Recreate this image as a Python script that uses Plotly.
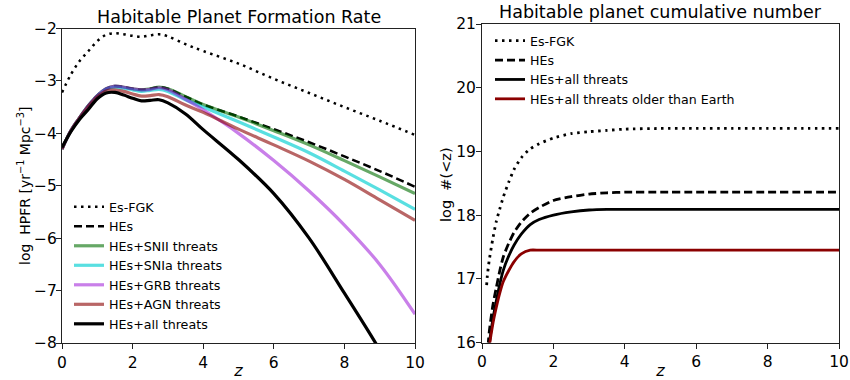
import plotly.graph_objects as go

# ---------------- Left panel data: Habitable Planet Formation Rate ----------------
z_hpfr = [0, 0.25, 0.5, 0.75, 1.0, 1.25, 1.5, 1.75, 2.0, 2.25, 2.5, 2.75, 3.0, 3.5, 4, 5, 6, 7, 8, 9, 10]
hpfr_es_fgk = [-3.22, -2.88, -2.62, -2.43, -2.24, -2.12, -2.09, -2.11, -2.14, -2.16, -2.13, -2.11, -2.15, -2.3, -2.43, -2.67, -2.96, -3.23, -3.5, -3.76, -4.03]
hpfr_hes = [-4.3, -3.95, -3.7, -3.47, -3.28, -3.15, -3.1, -3.12, -3.15, -3.17, -3.15, -3.12, -3.15, -3.3, -3.45, -3.68, -3.92, -4.17, -4.44, -4.72, -5.02]
hpfr_snii = [-4.3, -3.95, -3.7, -3.47, -3.28, -3.15, -3.1, -3.12, -3.15, -3.17, -3.15, -3.12, -3.15, -3.3, -3.45, -3.69, -3.95, -4.22, -4.52, -4.83, -5.15]
hpfr_snia = [-4.3, -3.95, -3.7, -3.47, -3.29, -3.16, -3.12, -3.14, -3.17, -3.2, -3.18, -3.16, -3.2, -3.36, -3.5, -3.78, -4.07, -4.37, -4.72, -5.08, -5.45]
hpfr_grb = [-4.3, -3.95, -3.7, -3.47, -3.28, -3.15, -3.1, -3.12, -3.15, -3.17, -3.16, -3.13, -3.17, -3.35, -3.55, -4.0, -4.52, -5.1, -5.75, -6.5, -7.45]
hpfr_agn = [-4.3, -3.95, -3.7, -3.48, -3.3, -3.19, -3.17, -3.2, -3.25, -3.29, -3.28, -3.26, -3.3, -3.46, -3.6, -3.92, -4.22, -4.53, -4.88, -5.27, -5.66]
hpfr_all = [-4.27, -3.97, -3.73, -3.54, -3.34, -3.23, -3.22, -3.27, -3.33, -3.38, -3.37, -3.36, -3.42, -3.63, -3.93, -4.5, -5.15, -6.0, -7.05, -8.13, -9.3]

# ---------------- Right panel data: cumulative number ----------------
z_cum = [0.1, 0.13, 0.15, 0.2, 0.3, 0.4, 0.5, 0.6, 0.75, 0.9, 1.1, 1.35, 1.6, 2.0, 2.5, 3.0, 3.5, 4, 5, 6, 7, 8, 9, 10]
cum_es_fgk = [None, 16.9, 17.05, 17.28, 17.62, 17.9, 18.1, 18.29, 18.52, 18.72, 18.9, 19.04, 19.12, 19.21, 19.28, 19.31, 19.33, 19.35, 19.36, 19.36, 19.36, 19.36, 19.36, 19.36]
cum_hes = [15.2, 15.55, 15.8, 16.15, 16.57, 16.86, 17.13, 17.35, 17.56, 17.73, 17.89, 18.03, 18.12, 18.23, 18.29, 18.33, 18.35, 18.36, 18.36, 18.36, 18.36, 18.36, 18.36, 18.36]
cum_all = [15.0, 15.35, 15.55, 15.95, 16.35, 16.65, 16.92, 17.14, 17.36, 17.53, 17.7, 17.85, 17.93, 18.0, 18.05, 18.08, 18.09, 18.09, 18.09, 18.09, 18.09, 18.09, 18.09, 18.09]
cum_old = [14.9, 15.2, 15.45, 15.9, 16.28, 16.55, 16.78, 16.96, 17.13, 17.27, 17.39, 17.45, 17.45, 17.45, 17.45, 17.45, 17.45, 17.45, 17.45, 17.45, 17.45, 17.45, 17.45, 17.45]

left_ticks = [-8, -7, -6, -5, -4, -3, -2]
right_ticks = [16, 17, 18, 19, 20, 21]
x_ticks = [0, 2, 4, 6, 8, 10]

FONT = "DejaVu Sans"
DOT = "2.5px,4.5px"
DASH = "8px,4px"

fig = go.Figure()

left_series = [
    ("Es-FGK", hpfr_es_fgk, "black", 2.5, DOT),
    ("HEs", hpfr_hes, "black", 2.5, DASH),
    ("HEs+SNII threats", hpfr_snii, "rgba(0,110,0,0.6)", 3.2, "solid"),
    ("HEs+SNIa threats", hpfr_snia, "rgba(0,206,209,0.65)", 3.2, "solid"),
    ("HEs+GRB threats", hpfr_grb, "rgba(148,0,211,0.5)", 3.2, "solid"),
    ("HEs+AGN threats", hpfr_agn, "rgba(139,0,0,0.6)", 3.2, "solid"),
    ("HEs+all threats", hpfr_all, "black", 3.2, "solid"),
]
for name, vals, col, w, dash in left_series:
    fig.add_trace(go.Scatter(
        x=z_hpfr, y=vals, name=name, mode="lines",
        line=dict(color=col, width=w, dash=dash, shape="spline", smoothing=1.0),
        xaxis="x", yaxis="y", legend="legend", showlegend=True,
    ))

right_series = [
    ("Es-FGK", cum_es_fgk, "black", 2.8, DOT),
    ("HEs", cum_hes, "black", 2.8, DASH),
    ("HEs+all threats", cum_all, "black", 2.8, "solid"),
    ("HEs+all threats older than Earth", cum_old, "#8b0000", 2.8, "solid"),
]
for name, vals, col, w, dash in right_series:
    fig.add_trace(go.Scatter(
        x=z_cum, y=vals, name=name, mode="lines",
        line=dict(color=col, width=w, dash=dash, shape="spline", smoothing=0.6),
        xaxis="x2", yaxis="y2", legend="legend2", showlegend=True, connectgaps=False,
    ))

W, H = 850, 380
ax_common = dict(
    showline=True, mirror=True, linecolor="#222", linewidth=1,
    ticks="outside", ticklen=5, tickwidth=1, tickcolor="#222",
    showgrid=False, zeroline=False, automargin=False,
    tickfont=dict(family=FONT, size=15.5, color="black"),
)

fig.update_layout(
    width=W, height=H,
    margin=dict(l=0, r=0, t=0, b=0, autoexpand=False),
    paper_bgcolor="white", plot_bgcolor="white",
    font=dict(family=FONT, color="black"),
    xaxis=dict(domain=[62 / W, 415 / W], range=[0, 10], tickvals=x_ticks, anchor="y",
               title=dict(text="<i>z</i>", font=dict(size=16, family=FONT), standoff=0), **ax_common),
    yaxis=dict(domain=[1 - 343 / H, 1 - 28.5 / H], range=[-8, -2], tickvals=left_ticks,
               ticktext=["\u2212" + str(abs(t)) for t in left_ticks], anchor="x",
               ticklabelstandoff=-4, **ax_common),
    xaxis2=dict(domain=[482 / W, 839 / W], range=[0, 10], tickvals=x_ticks, anchor="y2",
                title=dict(text="<i>z</i>", font=dict(size=16, family=FONT), standoff=0), **ax_common),
    yaxis2=dict(domain=[1 - 342.5 / H, 1 - 24 / H], range=[16, 21], tickvals=right_ticks,
                anchor="x2", ticklabelstandoff=-3, **ax_common),
    legend=dict(x=69 / W, y=1 - 339 / H, xanchor="left", yanchor="bottom",
                bgcolor="rgba(0,0,0,0)", font=dict(size=12.7, family=FONT),
                tracegroupgap=0, itemwidth=30),
    legend2=dict(x=490 / W, y=1 - 26 / H, xanchor="left", yanchor="top",
                 bgcolor="rgba(0,0,0,0)", font=dict(size=12.6, family=FONT),
                 tracegroupgap=0, itemwidth=30),
    annotations=[
        dict(text="Habitable Planet Formation Rate", x=(62 + 415) / 2 / W, y=1 - 17 / H,
             xref="paper", yref="paper", xanchor="center", yanchor="middle",
             showarrow=False, font=dict(size=17.5, family=FONT)),
        dict(text="Habitable planet cumulative number", x=(482 + 839) / 2 / W, y=1 - 12 / H,
             xref="paper", yref="paper", xanchor="center", yanchor="middle",
             showarrow=False, font=dict(size=17.5, family=FONT)),
        dict(text="log  HPFR [yr<sup>\u22121</sup> Mpc<sup>\u22123</sup>]", textangle=-90,
             x=24 / W, y=1 - 186 / H, xref="paper", yref="paper",
             xanchor="center", yanchor="middle", showarrow=False,
             font=dict(size=14, family=FONT)),
        dict(text="log  #(<z)", textangle=-90,
             x=446 / W, y=1 - 184 / H, xref="paper", yref="paper",
             xanchor="center", yanchor="middle", showarrow=False,
             font=dict(size=14.5, family=FONT)),
    ],
)

fig.write_html("out.html")
